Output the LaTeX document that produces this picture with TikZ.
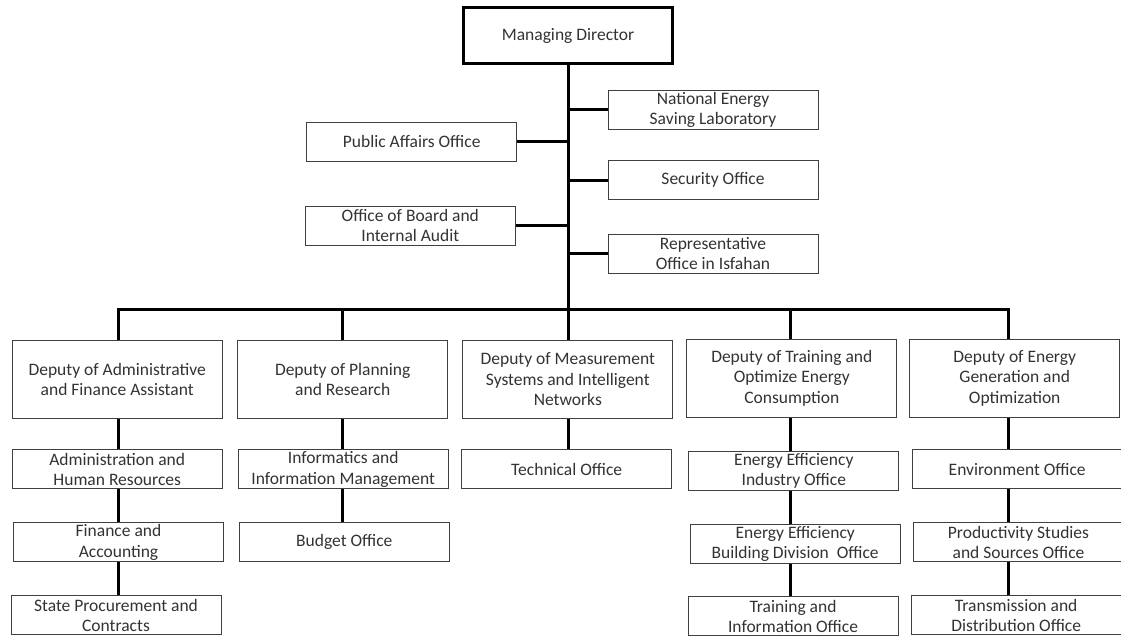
\documentclass[tikz,border=0pt]{standalone}
\usepackage{fontspec}
\setmainfont{Carlito}
\begin{document}
\begin{tikzpicture}[x=1pt,y=-1pt,
  box/.style={draw=black!75, line width=1pt, fill=white, inner sep=0pt,
    align=center, text=black!80, font=\fontsize{17.5}{20.5}\selectfont,
    minimum height=39pt, minimum width=210pt},
  deputy/.style={box, minimum height=78pt},
  head/.style={box, draw=black, line width=3.2pt,
    minimum width=209pt, minimum height=56pt},
  link/.style={line width=3pt, draw=black}]
\useasboundingbox (0,0) rectangle (1121,636);
\clip (0,0) rectangle (1121,636);

% head of the organisation
\node[head] (md) at (568,35.5) {Managing Director};

% staff offices along the trunk
\node[box] (nesl)  at (713,110)   {National Energy\\Saving Laboratory};
\node[box] (sec)   at (713,180.3) {Security Office};
\node[box] (rep)   at (713,253.7) {Representative\\Office in Isfahan};
\node[box] (pao)   at (411.7,141.7) {Public Affairs Office};
\node[box] (board) at (410.3,225.7) {Office of Board and\\Internal Audit};

% distribution bus and column drop points
\coordinate (colA) at (118.3,309.3);
\coordinate (colB) at (342.3,309.3);
\coordinate (colC) at (568,309.3);
\coordinate (colD) at (790.7,309.3);
\coordinate (colE) at (1008.5,309.3);

% deputies
\node[deputy] (dadm)   at (117.2,379.5) {Deputy of Administrative\\and Finance Assistant};
\node[deputy] (dplan)  at (342.7,379.5) {Deputy of Planning\\and Research};
\node[deputy] (dmeas)  at (567.8,379.2) {Deputy of Measurement\\Systems and Intelligent\\Networks};
\node[deputy] (dtrain) at (791.8,378.2) {Deputy of Training and\\Optimize Energy\\Consumption};
\node[deputy] (dgen)   at (1014.7,378.2) {Deputy of Energy\\Generation and\\Optimization};

% offices under each deputy
\node[box] (ahr)  at (117.2,469.3) {Administration and\\Human Resources};
\node[box] (fin)  at (118.5,542.3) {Finance and\\Accounting};
\node[box] (spc)  at (116,615.3)   {State Procurement and\\Contracts};

\node[box] (info) at (343.2,469.3) {Informatics and\\Information Management};
\node[box] (bud)  at (344.3,542.3) {Budget Office};

\node[box] (tech) at (566.7,469.3) {Technical Office};

\node[box] (eei)  at (793.8,470.8) {Energy Efficiency\\Industry Office};
\node[box] (eeb)  at (795.2,543.8) {Energy Efficiency\\Building Division\ \ Office};
\node[box] (tio)  at (793,616.3)   {Training and\\Information Office};

\node[box] (env)  at (1017.2,469.3) {Environment Office};
\node[box] (prod) at (1018.5,542.3) {Productivity Studies\\and Sources Office};
\node[box] (tdo)  at (1016.2,615.3) {Transmission and\\Distribution Office};

% trunk and staff links
\draw[link] (md.south) -- (colC);
\draw[link] (nesl.west) -- (nesl.west -| md.south);
\draw[link] (sec.west) -- (sec.west -| md.south);
\draw[link] (rep.west) -- (rep.west -| md.south);
\draw[link] (pao.east) -- (pao.east -| md.south);
\draw[link] (board.east) -- (board.east -| md.south);

% bus with outer drops
\draw[link] (colA |- dadm.north) -- (colA) -- (colE) -- (colE |- dgen.north);
\draw[link] (colB) -- (colB |- dplan.north);
\draw[link] (colC) -- (colC |- dmeas.north);
\draw[link] (colD) -- (colD |- dtrain.north);

% column chains
\draw[link] (colA |- dadm.south) -- (colA |- ahr.north);
\draw[link] (colA |- ahr.south)  -- (colA |- fin.north);
\draw[link] (colA |- fin.south)  -- (colA |- spc.north);

\draw[link] (colB |- dplan.south) -- (colB |- info.north);
\draw[link] (colB |- info.south)  -- (colB |- bud.north);

\draw[link] (colC |- dmeas.south) -- (colC |- tech.north);

\draw[link] (colD |- dtrain.south) -- (colD |- eei.north);
\draw[link] (colD |- eei.south)    -- (colD |- eeb.north);
\draw[link] (colD |- eeb.south)    -- (colD |- tio.north);

\draw[link] (colE |- dgen.south) -- (colE |- env.north);
\draw[link] (colE |- env.south)  -- (colE |- prod.north);
\draw[link] (colE |- prod.south) -- (colE |- tdo.north);
\end{tikzpicture}
\end{document}
